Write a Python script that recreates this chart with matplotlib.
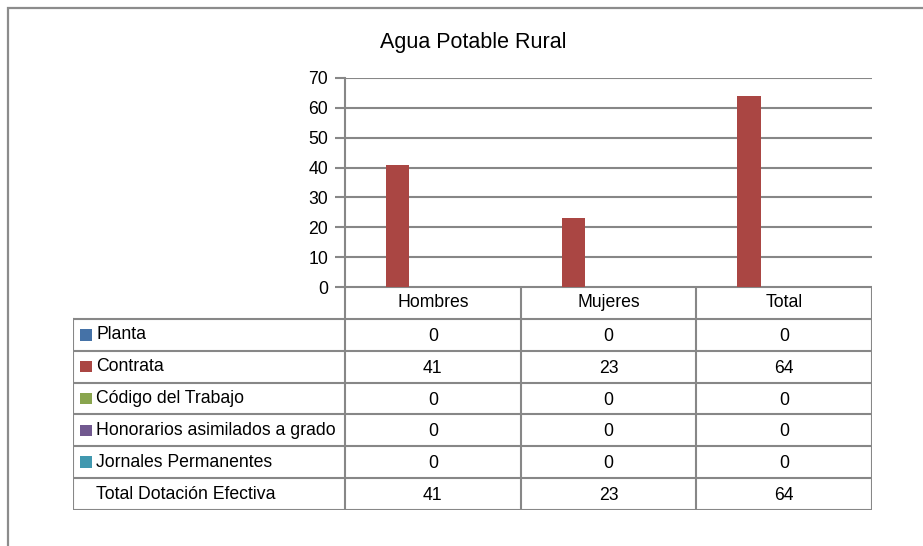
import matplotlib
matplotlib.use("Agg")
import matplotlib.pyplot as plt
from matplotlib.patches import Rectangle
from matplotlib import font_manager

# data
title = "Agua Potable Rural"
categories = ["Hombres", "Mujeres", "Total"]
series = ["Planta", "Contrata", "Código del Trabajo",
          "Honorarios asimilados a grado", "Jornales Permanentes",
          "Total Dotación Efectiva"]
planta = [0, 0, 0]
contrata = [41, 23, 64]
codigo = [0, 0, 0]
honorarios = [0, 0, 0]
jornales = [0, 0, 0]
total_dot = [41, 23, 64]
values = [planta, contrata, codigo, honorarios, jornales, total_dot]
colors = ["#4572A7", "#AA4643", "#89A54E", "#71588F", "#4198AF", None]
yticks = [0, 10, 20, 30, 40, 50, 60, 70]

names = {f.name for f in font_manager.fontManager.ttflist}
fam = "Liberation Sans Narrow" if "Liberation Sans Narrow" in names else "Liberation Sans"
plt.rcParams["font.family"] = [fam, "DejaVu Sans"]
FS = 12.7
GRID = "#878787"

W, H = 923, 546
fig = plt.figure(figsize=(W / 100, H / 100), dpi=100)

def fx(px):
    return px / W

def fy(py):
    return 1 - py / H

# outer frame (runs off the right and bottom edges)
fig.add_artist(Rectangle((fx(8), fy(560)), fx(940) - fx(8), fy(8) - fy(560),
                         transform=fig.transFigure, fill=False,
                         edgecolor="#8c8c8c", lw=1.6, clip_on=False))

# plot area
x0, x1, ytop, ybot = 345, 872, 78, 287
ax = fig.add_axes([fx(x0), fy(ybot), fx(x1) - fx(x0), fy(ytop) - fy(ybot)])
n = len(series)
bw = 1 / (n + 1.5)
for i, (vals, c) in enumerate(zip(values, colors)):
    if c is None:
        continue
    pos = [k + (i - (n - 1) / 2) * bw for k in range(len(categories))]
    ax.bar(pos, vals, width=bw, color=c, zorder=3)
ax.set_xlim(-0.5, len(categories) - 0.5)
ax.set_ylim(0, 70)
ax.set_yticks(yticks)
ax.set_xticks([])
ax.yaxis.grid(True, color=GRID, lw=1.5)
ax.set_axisbelow(True)
for s in ["top", "right", "bottom"]:
    ax.spines[s].set_visible(False)
ax.spines["left"].set_color(GRID)
ax.spines["left"].set_linewidth(1.5)
ax.tick_params(axis="y", length=7, width=1.5, color=GRID, labelsize=FS, pad=5)
fig.text(fx(473), fy(43), title, ha="center", va="center", fontsize=15.5)

# data table below the plot
tbl_left, tbl_bot = 73, 510
cat_px = (x1 - x0) / len(categories)
lab_units = (x0 - tbl_left) / cat_px
nrows = len(series) + 1
tax = fig.add_axes([fx(tbl_left), fy(tbl_bot), fx(x1) - fx(tbl_left), fy(ybot) - fy(tbl_bot)])
tax.set_xlim(-0.5 - lab_units, len(categories) - 0.5)
tax.set_ylim(nrows, 0)
tax.axis("off")
lk = dict(color=GRID, lw=1.5, solid_capstyle="projecting")
# horizontal lines
tax.plot([-0.5, len(categories) - 0.5], [0, 0], **lk)
for r in range(1, nrows + 1):
    tax.plot([-0.5 - lab_units, len(categories) - 0.5], [r, r], **lk)
# vertical lines
tax.plot([-0.5 - lab_units] * 2, [1, nrows], **lk)
for k in range(len(categories) + 1):
    tax.plot([k - 0.5] * 2, [0, nrows], **lk)
for k, cat in enumerate(categories):
    tax.text(k, 0.5, cat, ha="center", va="center", fontsize=FS)
unit_px = cat_px
for r, (name, vals, c) in enumerate(zip(series, values, colors), start=1):
    xl = -0.5 - lab_units + 7 / unit_px
    if c is not None:
        tax.add_patch(Rectangle((xl, r + 0.5 - 0.18), 12 / unit_px, 0.36,
                                facecolor=c, edgecolor="none"))
    tax.text(xl + 16 / unit_px, r + 0.5, name, ha="left", va="center", fontsize=FS)
    for k, v in enumerate(vals):
        tax.text(k, r + 0.55, str(v), ha="center", va="center", fontsize=FS)

fig.savefig("out.png", dpi=100)
